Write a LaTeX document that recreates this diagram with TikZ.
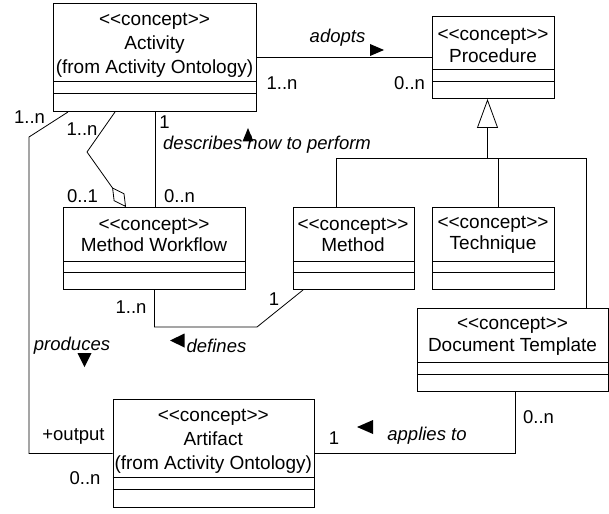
\documentclass[tikz,border=0pt]{standalone}
\usepackage{fontspec}
\setmainfont{Liberation Sans}
\usetikzlibrary{calc,arrows.meta}
\newcommand\stereo[1]{<\kern0pt<#1>\kern0pt>}
\newcommand\classbox[7]{%
  \node[cls, minimum width=#4pt, minimum height=#5pt] (#1) at (#2,#3) {};
  \draw[divider] ($(#1.north west)+(0,#6)$) -- ($(#1.north east)+(0,#6)$);
  \draw[divider] ($(#1.north west)+(0,#7)$) -- ($(#1.north east)+(0,#7)$);
}
\tikzset{
  cls/.style={draw, line width=1pt, inner sep=0pt, anchor=north west},
  divider/.style={line width=0.8pt},
  ctext/.style={align=center, inner sep=0pt, font=\fontsize{19}{21.5}\selectfont},
  ctextb/.style={align=center, inner sep=0pt, font=\fontsize{19}{24}\selectfont},
  lbl/.style={inner sep=0pt, font=\fontsize{18.5}{22}\selectfont},
  ilbl/.style={inner sep=0pt, font=\fontsize{18.5}{22}\selectfont\itshape},
  conn/.style={line width=0.8pt},
  dirtri/.style={fill=black},
}
\begin{document}
\begin{tikzpicture}[x=1pt,y=-1pt]
\useasboundingbox (0,0) rectangle (609,513);

% classes
\classbox{act}{53}{3}{203}{108}{78}{90}
\node[ctextb] (actt) at (154.5,45.5) {\stereo{concept}\\Activity\\(from Activity Ontology)};
\classbox{proc}{432}{16}{122}{82}{53}{65}
\node[ctext] (proct) at (493,45.5) {\stereo{concept}\\Procedure};
\classbox{mw}{63}{207}{182}{82}{54}{65}
\node[ctext] (mwt) at (154,235) {\stereo{concept}\\Method Workflow};
\classbox{meth}{292.5}{207}{121}{82}{54}{65}
\node[ctext] (metht) at (353,235) {\stereo{concept}\\Method};
\classbox{tech}{432}{207}{122}{82}{54}{65}
\node[ctext] (techt) at (493,235) {\stereo{concept}\\Technique};
\classbox{doc}{417}{308}{191}{83}{54}{66}
\node[ctext] (doct) at (512.5,336.5) {\stereo{concept}\\Document Template};
\classbox{art}{112.5}{399}{201.5}{108}{78}{90}
\node[ctextb] (artt) at (213.25,441.5) {\stereo{concept}\\Artifact\\(from Activity Ontology)};

% adopts
\draw[conn] (act.east) -- (proc.west);
\node[ilbl] (adoptsl) at (337.5,38) {adopts};
\fill[dirtri] (370,44) -- (384,50) -- (370,56) -- cycle;
\node[lbl] (adm1) at (282,83) {1..n};
\node[lbl] (adm2) at (409.5,83) {0..n};

% generalization
\coordinate (gj) at (487.5,158);
\draw[conn, -{Triangle[open, length=29pt, width=21pt]}] (gj) -- (gj |- proc.south);
\draw[conn] ([xshift=-17pt]meth.north) |- (gj);
\draw[conn] ([xshift=4.5pt]tech.north) |- (gj);
\draw[conn] ([xshift=73.5pt]doc.north) |- (gj);

% describes how to perform
\draw[conn] (act.south) -- (act.south |- mw.north);
\node[lbl] (dsm1) at (164.5,122) {1};
\node[ilbl, anchor=west] (dsl) at (163,145) {describes how to perform};
\fill[dirtri] (242.5,141.5) -- (248,128) -- (253.5,141.5) -- cycle;
\node[lbl] (dsm2) at (179.5,196) {0..n};

% aggregation
\coordinate (ag1) at (87,152);
\draw[conn, -{Diamond[open, length=24pt, width=13pt]}] ([xshift=62pt]act.south west) -- (ag1) -- ([xshift=63pt]mw.north west);
\node[lbl] (agm1) at (82,129) {1..n};
\node[lbl] (agm2) at (82.5,196) {0..1};

% produces
\coordinate (pr1) at (29,137);
\draw[conn] ([xshift=15pt]act.south west) -- (pr1) |- (art.west);
\node[lbl] (prm1) at (29.5,117) {1..n};
\node[ilbl] (prl) at (72,346) {produces};
\fill[dirtri] (77.5,353) -- (91.5,353) -- (84.5,367) -- cycle;
\node[lbl] (prr) at (73.5,436) {+output};
\node[lbl] (prm2) at (85,478) {0..n};

% defines
\coordinate (df1) at (257,327);
\draw[conn] (mw.south) |- (df1) -- ([xshift=10.5pt]meth.south west);
\node[lbl] (dfm1) at (131,307) {1..n};
\node[lbl] (dfm2) at (274,299) {1};
\node[ilbl] (dfl) at (216.5,346) {defines};
\fill[dirtri] (184.5,333.5) -- (184.5,347.5) -- (170,340.5) -- cycle;

% applies to
\draw[conn] (art.east) -| ([xshift=2pt]doc.south);
\node[lbl] (apm1) at (334,438) {1};
\node[ilbl] (apl) at (427,436) {applies to};
\fill[dirtri] (373,420) -- (373,434) -- (357,427) -- cycle;
\node[lbl] (apm2) at (538.5,417) {0..n};
\end{tikzpicture}
\end{document}
